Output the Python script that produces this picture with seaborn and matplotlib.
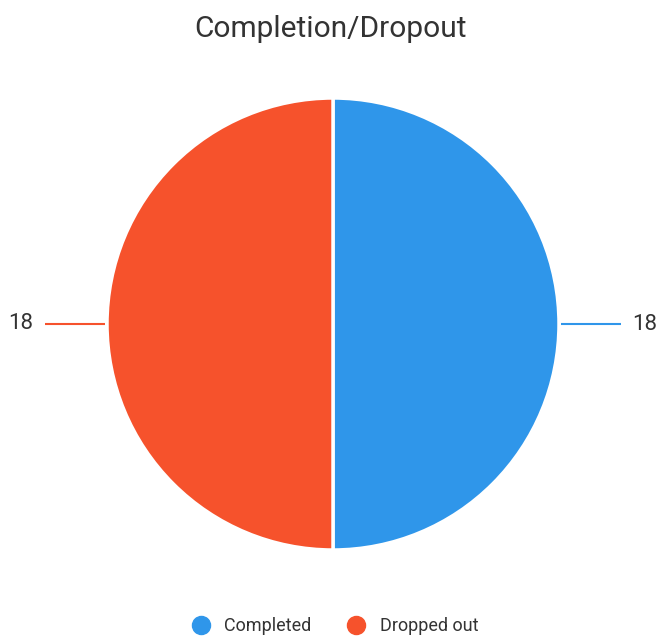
import matplotlib
matplotlib.use("Agg")
import matplotlib.pyplot as plt
import seaborn as sns
import numpy as np
from matplotlib.lines import Line2D

categories = ["Completed", "Dropped out"]
values = [18, 18]
colors = ["#2F96EA", "#F6522C"]
title = "Completion/Dropout"

sns.set_theme(style="white")
plt.rcParams['font.family'] = ['Roboto', 'DejaVu Sans']

W, H = 661, 636
fig = plt.figure(figsize=(W / 100, H / 100), dpi=100)
ax = fig.add_axes([0, 0, 1, 1])

cx, cy, r = 333, H - 324, 226
wedges, _ = ax.pie(values, colors=colors, startangle=90, counterclock=False,
                   center=(cx, cy), radius=r, frame=True,
                   wedgeprops=dict(edgecolor='white', linewidth=2.5))
ax.set_xlim(0, W)
ax.set_ylim(0, H)
ax.set_aspect('equal')
ax.axis('off')

for w, v, c in zip(wedges, values, colors):
    ang = np.deg2rad((w.theta1 + w.theta2) / 2)
    dx, dy = np.cos(ang), np.sin(ang)
    ax.plot([cx + dx * (r + 2), cx + dx * (r + 62)], [cy + dy * (r + 2), cy + dy * (r + 62)],
            color=c, lw=1.5, solid_capstyle='butt')
    ax.text(cx + dx * (r + 86), cy + dy * (r + 86), str(v), ha='center', va='center',
            fontsize=16, color='#333333')

fig.text(0.5, 1 - 29 / H, title, ha='center', va='center', fontsize=21.5, color='#333333')

handles = [Line2D([], [], marker='o', linestyle='none', markersize=13,
                  markerfacecolor=c, markeredgecolor=c) for c in colors]
fig.legend(handles, categories, loc='center', bbox_to_anchor=(0.5, 1 - 626 / H),
           ncol=2, frameon=False, fontsize=13, handletextpad=0.3, columnspacing=1.5,
           labelcolor='#333333')

fig.savefig("out.png", dpi=100)
